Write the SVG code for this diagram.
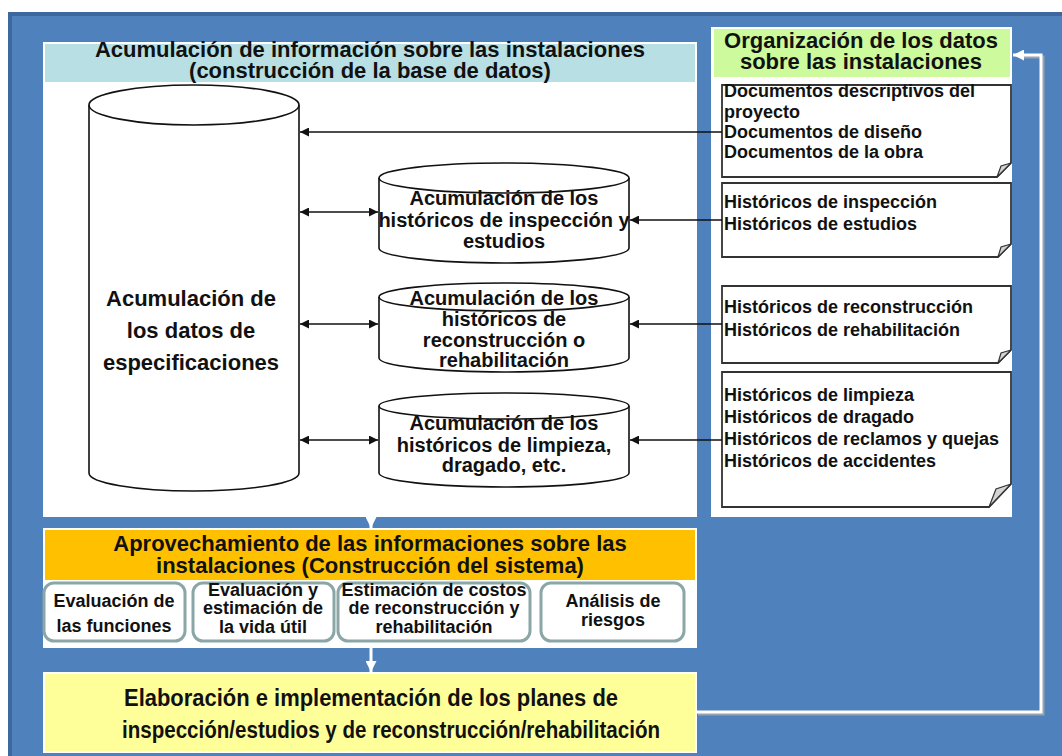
<svg xmlns="http://www.w3.org/2000/svg" width="1062" height="756" viewBox="0 0 1062 756">
<defs>
<style>
.t{font-family:"Liberation Sans",Arial,sans-serif;font-weight:bold;fill:#111}
.c{text-anchor:middle}
.cyl{fill:#fff;stroke:#111;stroke-width:1.6}
.note{fill:#fff;stroke:#333;stroke-width:1.8}
.fold{fill:#d4d4d4;stroke:#333;stroke-width:1.2}
.conn{stroke:#111;stroke-width:1.5;fill:none}
.rbox{fill:#fff;stroke:#8aa6a6;stroke-width:3}
.wl{stroke:#fff;stroke-width:3;fill:none}
.sh{stroke:#9aa3ad;stroke-width:3;fill:none}
</style>
<marker id="ah" viewBox="0 0 10 10" refX="10" refY="5" markerWidth="9" markerHeight="9" markerUnits="userSpaceOnUse" orient="auto-start-reverse">
<path d="M0,0 L10,5 L0,10 Z" fill="#111"/>
</marker>
<marker id="wh" viewBox="0 0 10 10" refX="10" refY="5" markerWidth="11" markerHeight="11" markerUnits="userSpaceOnUse" orient="auto">
<path d="M0,0 L10,5 L0,10 Z" fill="#fff"/>
</marker>
</defs>
<rect width="1062" height="756" fill="#fff"/>
<rect x="8" y="12" width="1054" height="744" fill="#3d679d"/>
<rect x="12" y="16" width="1050" height="740" fill="#4f81bd"/>

<g id="panel-acumulacion">
<rect x="43" y="42" width="654" height="475" fill="#fff"/>
<rect x="45" y="44" width="650" height="38" fill="#b7dfe4"/>
<text class="t c" x="370" y="57" font-size="22">Acumulación de información sobre las instalaciones</text>
<text class="t c" x="370" y="78" font-size="22">(construcción de la base de datos)</text>
</g>

<g id="panel-organizacion">
<rect x="711" y="27" width="301" height="490" fill="#fff"/>
<rect x="714" y="29" width="296" height="48" fill="#ccfa9c"/>
<text class="t c" x="861" y="48" font-size="22">Organización de los datos</text>
<text class="t c" x="861" y="69" font-size="22">sobre las instalaciones</text>
</g>

<g id="cyl-especificaciones">
<path class="cyl" d="M89,105 A105,20 0 0 1 299,105 V473 A105,18 0 0 1 89,473 Z"/>
<path class="cyl" d="M89,105 A105,20 0 0 0 299,105"/>
<text class="t c" x="191" y="306" font-size="22">Acumulación de</text>
<text class="t c" x="191" y="338" font-size="22">los datos de</text>
<text class="t c" x="191" y="370" font-size="22">especificaciones</text>
</g>

<g id="cyl-inspeccion">
<path class="cyl" d="M379,178 A125,15 0 0 1 629,178 V248 A125,15 0 0 1 379,248 Z"/>
<path class="cyl" d="M379,178 A125,15 0 0 0 629,178"/>
<text class="t c" x="504" y="205" font-size="20">Acumulación de los</text>
<text class="t c" x="504" y="227" font-size="20">históricos de inspección y</text>
<text class="t c" x="504" y="248" font-size="20">estudios</text>
</g>

<g id="cyl-reconstruccion">
<path class="cyl" d="M379,297 A125,14 0 0 1 629,297 V358 A125,14 0 0 1 379,358 Z"/>
<path class="cyl" d="M379,297 A125,14 0 0 0 629,297"/>
<text class="t c" x="504" y="305" font-size="20">Acumulación de los</text>
<text class="t c" x="504" y="326" font-size="20">históricos de</text>
<text class="t c" x="504" y="347" font-size="20">reconstrucción o</text>
<text class="t c" x="504" y="367" font-size="20">rehabilitación</text>
</g>

<g id="cyl-limpieza">
<path class="cyl" d="M379,406 A125,13 0 0 1 629,406 V473 A125,14 0 0 1 379,473 Z"/>
<path class="cyl" d="M379,406 A125,13 0 0 0 629,406"/>
<text class="t c" x="504" y="430" font-size="20">Acumulación de los</text>
<text class="t c" x="504" y="452" font-size="20">históricos de limpieza,</text>
<text class="t c" x="504" y="472" font-size="20">dragado, etc.</text>
</g>

<g id="note-documentos">
<path class="note" d="M722,85 H1011 V163 L997,177 H722 Z"/>
<path class="fold" d="M997,177 L1001,166 L1011,163 Z"/>
<text class="t" x="724" y="97" font-size="18">Documentos descriptivos del</text>
<text class="t" x="724" y="118" font-size="18">proyecto</text>
<text class="t" x="724" y="138" font-size="18">Documentos de diseño</text>
<text class="t" x="724" y="158" font-size="18">Documentos de la obra</text>
</g>

<g id="note-inspeccion">
<path class="note" d="M722,183 H1011 V244 L998,257 H722 Z"/>
<path class="fold" d="M998,257 L1001,247 L1011,244 Z"/>
<text class="t" x="724" y="208" font-size="18">Históricos de inspección</text>
<text class="t" x="724" y="230" font-size="18">Históricos de estudios</text>
</g>

<g id="note-reconstruccion">
<path class="note" d="M722,286 H1011 V350 L998,363 H722 Z"/>
<path class="fold" d="M998,363 L1001,353 L1011,350 Z"/>
<text class="t" x="724" y="313" font-size="18">Históricos de reconstrucción</text>
<text class="t" x="724" y="336" font-size="18">Históricos de rehabilitación</text>
</g>

<g id="note-limpieza">
<path class="note" d="M722,372 H1011 V484 L989,507 H722 Z"/>
<path class="fold" d="M989,507 L996,489 L1011,484 Z"/>
<text class="t" x="724" y="401" font-size="18">Históricos de limpieza</text>
<text class="t" x="724" y="423" font-size="18">Históricos de dragado</text>
<text class="t" x="724" y="445" font-size="18">Históricos de reclamos y quejas</text>
<text class="t" x="724" y="467" font-size="18">Históricos de accidentes</text>
</g>

<g id="panel-aprovechamiento">
<rect x="43" y="528" width="654" height="120" fill="#fff"/>
<rect x="45" y="530" width="650" height="50" fill="#ffc000"/>
<text class="t c" x="370" y="551" font-size="22">Aprovechamiento de las informaciones sobre las</text>
<text class="t c" x="370" y="573" font-size="22">instalaciones (Construcción del sistema)</text>
</g>

<g id="box-funciones">
<rect class="rbox" x="44" y="583" width="141" height="58" rx="10"/>
<text class="t c" x="114" y="607" font-size="18">Evaluación de</text>
<text class="t c" x="114" y="632" font-size="18">las funciones</text>
</g>
<g id="box-vida">
<rect class="rbox" x="193" y="583" width="141" height="58" rx="10"/>
<text class="t c" x="263" y="596" font-size="18">Evaluación y</text>
<text class="t c" x="263" y="614" font-size="18">estimación de</text>
<text class="t c" x="263" y="633" font-size="18">la vida útil</text>
</g>
<g id="box-costos">
<rect class="rbox" x="338" y="583" width="192" height="58" rx="10"/>
<text class="t c" x="434" y="596" font-size="18">Estimación de costos</text>
<text class="t c" x="434" y="614" font-size="18">de reconstrucción y</text>
<text class="t c" x="434" y="633" font-size="18">rehabilitación</text>
</g>
<g id="box-riesgos">
<rect class="rbox" x="541" y="583" width="143" height="58" rx="10"/>
<text class="t c" x="613" y="607" font-size="18">Análisis de</text>
<text class="t c" x="613" y="626" font-size="18">riesgos</text>
</g>

<g id="panel-elaboracion">
<rect x="43" y="672" width="654" height="81" fill="#fff"/>
<rect x="45" y="674" width="650" height="77" fill="#ffff99"/>
<text class="t c" x="371" y="706" font-size="23" textLength="494" lengthAdjust="spacingAndGlyphs">Elaboración e implementación de los planes de</text>
<text class="t c" x="391" y="738" font-size="23" textLength="538" lengthAdjust="spacingAndGlyphs">inspección/estudios y de reconstrucción/rehabilitación</text>
</g>

<g id="connectors">
<line class="conn" x1="722" y1="132" x2="300" y2="132" marker-end="url(#ah)"/>
<line class="conn" x1="300" y1="212" x2="378" y2="212" marker-start="url(#ah)" marker-end="url(#ah)"/>
<line class="conn" x1="722" y1="220" x2="630" y2="220" marker-end="url(#ah)"/>
<line class="conn" x1="300" y1="324" x2="378" y2="324" marker-start="url(#ah)" marker-end="url(#ah)"/>
<line class="conn" x1="722" y1="324" x2="630" y2="324" marker-end="url(#ah)"/>
<line class="conn" x1="300" y1="440" x2="378" y2="440" marker-start="url(#ah)" marker-end="url(#ah)"/>
<line class="conn" x1="722" y1="440" x2="630" y2="440" marker-end="url(#ah)"/>
<line class="wl" x1="371" y1="517" x2="371" y2="528" marker-end="url(#wh)"/>
<line class="wl" x1="371" y1="648" x2="371" y2="672" marker-end="url(#wh)"/>
<polyline class="sh" points="698,714 1043,714 1043,57 1022,57"/>
<polyline class="wl" points="697,712 1041,712 1041,55 1013,55" marker-end="url(#wh)"/>
</g>
</svg>
